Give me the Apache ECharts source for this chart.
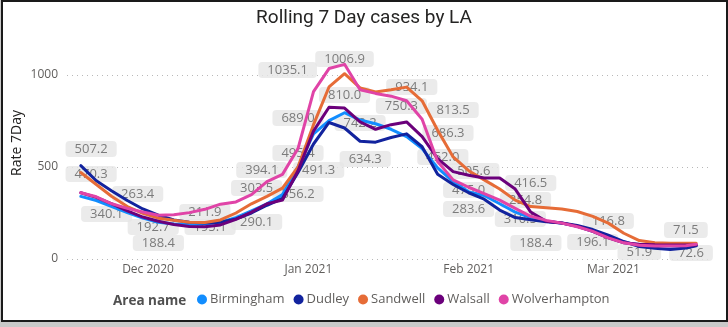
<!DOCTYPE html>
<html>
<head>
<meta charset="utf-8">
<script src="https://cdn.jsdelivr.net/npm/echarts@6/dist/echarts.min.js"></script>
<style>
  html, body { margin: 0; padding: 0; width: 728px; height: 327px; background: #c9c9c9; overflow: hidden; }
  #frame { position: absolute; left: 1px; top: 0; width: 727px; height: 322px; box-sizing: border-box; border: 2px solid #1a1a1a; background: #ffffff; }
  #chart { position: absolute; left: 0; top: 0; width: 728px; height: 327px; }
</style>
</head>
<body>
<div id="frame"></div>
<div id="chart"></div>
<script>
// ---------- DATA ----------
const title = 'Rolling 7 Day cases by LA';
const yAxisTitle = 'Rate 7Day';
const legendTitle = 'Area name';
const areaNames = ['Birmingham', 'Dudley', 'Sandwell', 'Walsall', 'Wolverhampton'];

const dates = ['2020-11-18','2020-11-21','2020-11-24','2020-11-27','2020-11-30','2020-12-03','2020-12-06','2020-12-09','2020-12-12','2020-12-15',
  '2020-12-18','2020-12-21','2020-12-24','2020-12-27','2020-12-30','2021-01-02','2021-01-05','2021-01-08','2021-01-11','2021-01-14',
  '2021-01-17','2021-01-20','2021-01-23','2021-01-26','2021-01-29','2021-02-01','2021-02-04','2021-02-07','2021-02-10','2021-02-13',
  '2021-02-16','2021-02-19','2021-02-22','2021-02-25','2021-02-28','2021-03-03','2021-03-06','2021-03-09','2021-03-12','2021-03-15','2021-03-17'];

const birmingham = [340.1,318,285,252,222,200,190,186,190,200,225,262,300,350,500,680,752,795,755,735,705,665,600,495,420,365,345,300,255,225,205,195,178,150,118,90,77,73,71,72,74];
const dudley = [507.2,425,370,318,272,238,212,200,196,200,218,250,292,330,470,625,742,712,640,635,660,680,610,460,405,360,325,266,225,213,203,196,182,160,130,95,68,58,52,60,72];
const sandwell = [470.3,405,340,285,248,222,210,200,198,212,250,300,340,385,500,730,935,1006.9,930,908,920,934.1,860,700,555,480,430,380,320,285,278,272,258,232,195,140,100,88,86,86,86];
const walsall = [360,335,300,262,228,205,188,177,175,185,215,255,300,320,480,695,825,820,745,705,730,745,665,545,475,455,440,440,380,255,205,196,178,150,115,88,80,77,76,76,76];
const wolverhampton = [360,338,300,275,255,238,240,252,270,298,310,350,420,460,600,910,1035.1,1058,920,900,885,860,760,530,430,390,355,320,275,232,210,195,175,150,115,88,75,70,70,71.5,80];

const tickDates = ['2020-12-01','2021-01-01','2021-02-01','2021-03-01'];
const tickLabels = ['Dec 2020','Jan 2021','Feb 2021','Mar 2021'];
const yTicks = [0, 500, 1000];
const xRange = ['2020-11-15 08:00', '2021-03-19 16:00'];

// data labels shown in the reference: [date, value text]
const dataLabels = [
  ['2020-11-20','507.2'],['2020-11-20','470.3'],['2020-11-29','263.4'],['2020-11-23','340.1'],
  ['2020-12-02','192.7'],['2020-12-03','188.4'],['2020-12-12','211.9'],['2020-12-13','195.1'],
  ['2020-12-22','290.1'],['2020-12-22','303.5'],['2020-12-23','394.1'],['2020-12-30','356.2'],
  ['2021-01-03','491.3'],['2020-12-30','495.4'],['2020-12-30','689.0'],['2020-12-28','1035.1'],
  ['2021-01-08','1006.9'],['2021-01-08','810.0'],['2021-01-11','742.2'],['2021-01-12','634.3'],
  ['2021-01-21','934.1'],['2021-01-19','750.3'],['2021-01-29','813.5'],['2021-01-28','686.3'],
  ['2021-01-27','452.0'],['2021-02-02','505.6'],['2021-02-01','475.0'],['2021-02-01','283.6'],
  ['2021-02-13','416.5'],['2021-02-12','254.8'],['2021-02-11','310.5'],['2021-02-14','188.4'],
  ['2021-02-25','196.1'],['2021-02-28','116.8'],['2021-03-06','51.9'],['2021-03-15','71.5'],
  ['2021-03-16','72.6']
];

// ---------- STYLE ----------
const colors = ['#118DFF', '#12239E', '#E66C37', '#6B007B', '#E044A7'];
const labelDy = [-16.7,1.5,-16.5,17.6, 3.5,18.7,-8,3.9, 16.4,-15.2,-16.5,0.5, 1.4,-14.8,-14.2,1.5,
  -14.7,-15,0.6,16.7, -0.1,-14.9,0.7,0.3, -18.8,5,18.4,2.2, 0.6,-12.1,17.1,18.7, 19.1,-16.5,2.5,-15.8, 7.4];
const FONT = "'Segoe UI', 'Open Sans', sans-serif";

const t = d => echarts.time.parse(d).getTime();
const seriesValues = [birmingham, dudley, sandwell, walsall, wolverhampton];
const tickTimes = tickDates.map(t);

const chart = echarts.init(document.getElementById('chart'), null, { renderer: 'canvas' });

const lineSeries = areaNames.map((name, i) => ({
  name: name,
  type: 'line',
  data: dates.map((d, j) => [t(d), seriesValues[i][j]]),
  showSymbol: false,
  symbol: 'none',
  clip: false,
  z: 3,
  lineStyle: { width: 3, color: colors[i], join: 'round', cap: 'round' },
  itemStyle: { color: colors[i] },
  emphasis: { disabled: true }
}));

const labelSeries = {
  name: 'labels',
  type: 'scatter',
  z: 1,
  silent: true,
  clip: false,
  symbolSize: 0.1,
  itemStyle: { color: 'transparent' },
  data: dataLabels.map((l, i) => ({
    value: [t(l[0]), Number(l[1]), l[1]],
    label: { offset: [0, labelDy[i]] }
  })),
  label: {
    show: true,
    position: 'inside',
    formatter: p => p.value[2],
    fontFamily: FONT,
    fontSize: 13,
    color: '#5f5f5f',
    backgroundColor: '#e6e6e6',
    borderRadius: 4,
    padding: [2, 9, 1, 9]
  },
  emphasis: { disabled: true }
};

chart.setOption({
  animation: false,
  color: colors,
  title: {
    text: title,
    left: 'center',
    top: 4,
    textStyle: { fontFamily: "Roboto, sans-serif", fontSize: 19, fontWeight: 'normal', color: '#252423' }
  },
  grid: { left: 67, right: 18, top: 75, bottom: 68 },
  legend: {
    data: areaNames,
    left: 197,
    top: 293,
    padding: 0,
    icon: 'circle',
    itemWidth: 10,
    itemHeight: 10,
    itemGap: 9,
    selectedMode: false,
    textStyle: { fontFamily: FONT, fontSize: 13, color: '#605E5C', padding: [0, 0, 0, -2] }
  },
  graphic: [
    {
      type: 'text', x: 17, y: 143, rotation: Math.PI / 2,
      style: { text: yAxisTitle, align: 'center', verticalAlign: 'middle', fontFamily: FONT, fontSize: 14, fill: '#252423' }
    },
    {
      type: 'text', x: 113, y: 301,
      style: { text: legendTitle, align: 'left', verticalAlign: 'middle', fontFamily: FONT, fontSize: 13.5, fontWeight: 'bold', fill: '#505050' }
    }
  ],
  xAxis: {
    type: 'value',
    min: t(xRange[0]),
    max: t(xRange[1]),
    axisLine: { show: false },
    axisTick: { show: false },
    splitLine: { show: false },
    axisLabel: {
      customValues: tickTimes,
      formatter: v => {
        const i = tickTimes.indexOf(v);
        return i >= 0 ? tickLabels[i] : '';
      },
      margin: 5,
      fontFamily: FONT,
      fontSize: 12,
      color: '#605E5C',
      hideOverlap: false
    }
  },
  yAxis: {
    type: 'value',
    min: yTicks[0],
    max: yTicks[yTicks.length - 1],
    interval: 500,
    axisLine: { show: false },
    axisTick: { show: false },
    axisLabel: { margin: 9, fontFamily: FONT, fontSize: 12, color: '#605E5C', formatter: v => String(v) },
    splitLine: { show: true, lineStyle: { type: [1, 4], color: '#b8b8b8', width: 1 } }
  },
  series: [labelSeries].concat(lineSeries)
});
</script>
</body>
</html>
